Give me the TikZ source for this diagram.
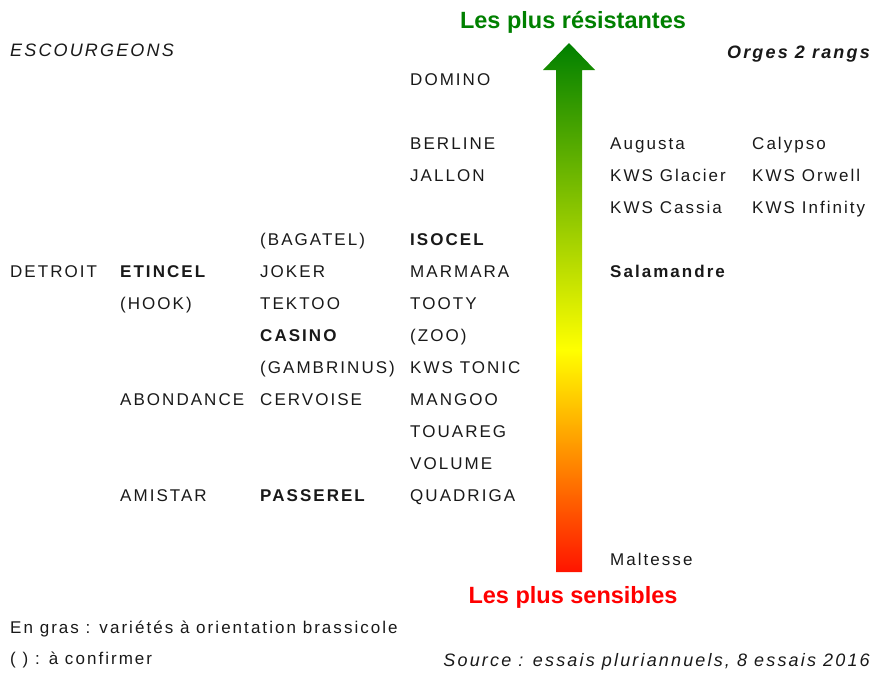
\documentclass[tikz,border=0pt]{standalone}
\usepackage{fontspec}
\setmainfont{Liberation Sans}[LetterSpace=12]
\newfontfamily\titlefont{Liberation Sans}
\definecolor{titlegreen}{RGB}{0,128,0}
\definecolor{titlered}{RGB}{255,0,0}
\definecolor{arrowgreen}{RGB}{0,128,0}
\definecolor{arrowyellow}{RGB}{255,255,0}
\definecolor{arrowred}{RGB}{255,20,0}
\definecolor{txt}{RGB}{25,25,25}
\pgfdeclareverticalshading{arrowshade}{100bp}{color(0bp)=(arrowred); color(25bp)=(arrowred); color(46bp)=(arrowyellow); color(75bp)=(arrowgreen); color(100bp)=(arrowgreen)}
\begin{document}
\begin{tikzpicture}[x=1pt,y=-1pt,
  lbl/.style={anchor=base west,inner sep=0pt,text=txt,font=\fontsize{17pt}{20pt}\selectfont},
  blbl/.style={lbl,font=\fontsize{17pt}{20pt}\selectfont\bfseries},
  ttl/.style={anchor=base,inner sep=0pt,font=\titlefont\fontsize{23.5pt}{28pt}\selectfont\bfseries}]
\useasboundingbox (0,0) rectangle (875,673);
% gradient arrow
\shade[shading=arrowshade]
  (569,43) -- (595,70) -- (582,70) -- (582,572) -- (556,572) -- (556,70) -- (543,70) -- cycle;
% titles
\node[ttl,text=titlegreen] (top) at (573,28) {Les plus résistantes};
\node[ttl,text=titlered] (bot) at (573,603) {Les plus sensibles};
\node[lbl,font=\fontsize{18pt}{21pt}\selectfont\itshape] (esc) at (10,56) {ESCOURGEONS};
\node[lbl,anchor=base east,font=\fontsize{18pt}{21pt}\selectfont\bfseries\itshape] (orges) at (870,58) {Orges 2 rangs};
% column 4
\node[lbl] (domino) at (410,85) {DOMINO};
\node[lbl] (berline) at (410,149) {BERLINE};
\node[lbl] (jallon) at (410,181) {JALLON};
\node[blbl] (isocel) at (410,245) {ISOCEL};
\node[lbl] (marmara) at (410,277) {MARMARA};
\node[lbl] (tooty) at (410,309) {TOOTY};
\node[lbl] (zoo) at (410,341) {(ZOO)};
\node[lbl] (kwstonic) at (410,373) {KWS TONIC};
\node[lbl] (mangoo) at (410,405) {MANGOO};
\node[lbl] (touareg) at (410,437) {TOUAREG};
\node[lbl] (volume) at (410,469) {VOLUME};
\node[lbl] (quadriga) at (410,501) {QUADRIGA};
% column 3
\node[lbl] (bagatel) at (260,245) {(BAGATEL)};
\node[lbl] (joker) at (260,277) {JOKER};
\node[lbl] (tektoo) at (260,309) {TEKTOO};
\node[blbl] (casino) at (260,341) {CASINO};
\node[lbl] (gambrinus) at (260,373) {(GAMBRINUS)};
\node[lbl] (cervoise) at (260,405) {CERVOISE};
\node[blbl] (passerel) at (260,501) {PASSEREL};
% column 2
\node[blbl] (etincel) at (120,277) {ETINCEL};
\node[lbl] (hook) at (120,309) {(HOOK)};
\node[lbl] (abondance) at (120,405) {ABONDANCE};
\node[lbl] (amistar) at (120,501) {AMISTAR};
% column 1
\node[lbl] (detroit) at (10,277) {DETROIT};
% orges columns
\node[lbl] (augusta) at (610,149) {Augusta};
\node[lbl] (calypso) at (752,149) {Calypso};
\node[lbl] (glacier) at (610,181) {KWS Glacier};
\node[lbl] (orwell) at (752,181) {KWS Orwell};
\node[lbl] (cassia) at (610,213) {KWS Cassia};
\node[lbl] (infinity) at (752,213) {KWS Infinity};
\node[blbl] (salamandre) at (610,277) {Salamandre};
\node[lbl] (maltesse) at (610,565) {Maltesse};
% legend
\node[lbl] (gras) at (10,633) {En gras : variétés à orientation brassicole};
\node[lbl] (conf) at (10,664) {( ) : à confirmer};
\node[lbl,anchor=base east,font=\fontsize{18pt}{21pt}\selectfont\itshape] (source) at (870,666) {Source : essais pluriannuels, 8 essais 2016};
\end{tikzpicture}
\end{document}
